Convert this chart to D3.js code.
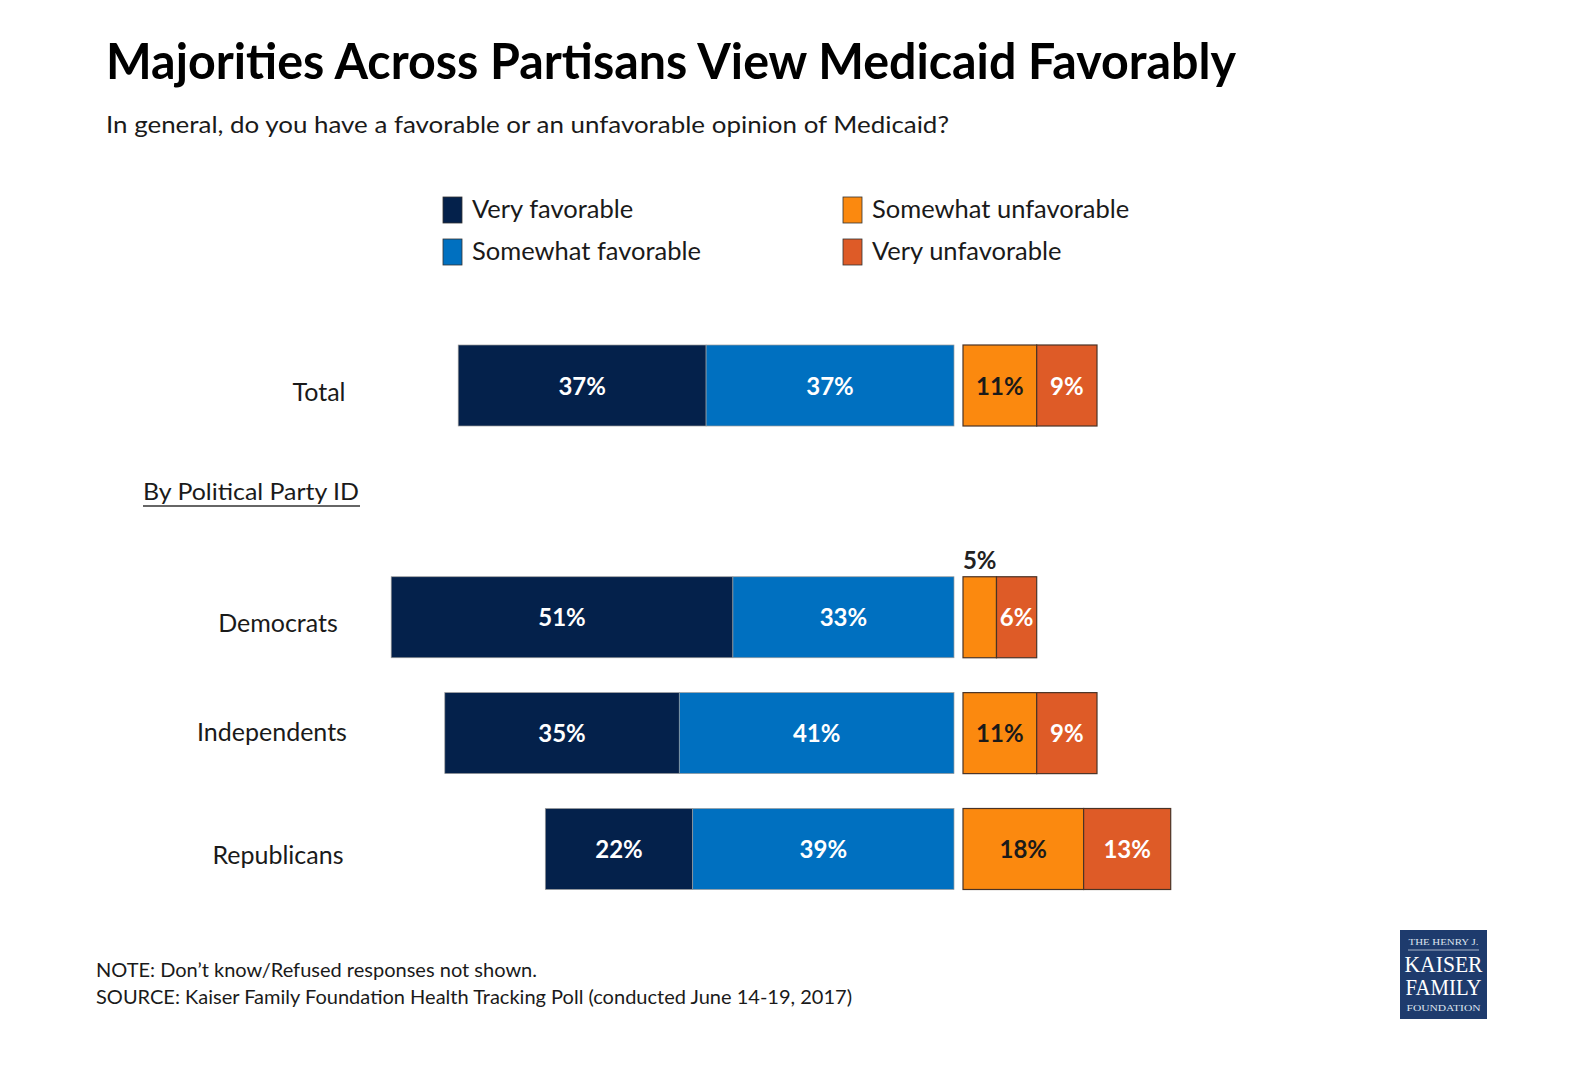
<!DOCTYPE html>
<html>
<head>
<meta charset="utf-8">
<script src="https://cdn.jsdelivr.net/npm/d3@7"></script>
<style>
  html, body { margin: 0; padding: 0; background: #ffffff; }
  svg { display: block; }
</style>
</head>
<body>
<svg id="chart" width="1586" height="1092"></svg>
<script>
// ---------------- DATA ----------------
const categories = ["Total", "Democrats", "Independents", "Republicans"];
const veryFavorable       = [37, 51, 35, 22];
const somewhatFavorable   = [37, 33, 41, 39];
const somewhatUnfavorable = [11, 5, 11, 18];
const veryUnfavorable     = [9, 6, 9, 13];
const seriesNames = ["Very favorable", "Somewhat favorable", "Somewhat unfavorable", "Very unfavorable"];
const titleText = "Majorities Across Partisans View Medicaid Favorably";
const subtitleText = "In general, do you have a favorable or an unfavorable opinion of Medicaid?";
const groupLabel = "By Political Party ID";
const noteText = "NOTE: Don\u2019t know/Refused responses not shown.";
const sourceText = "SOURCE: Kaiser Family Foundation Health Tracking Poll (conducted June 14-19, 2017)";

// ---------------- STYLE / LAYOUT ----------------
const colors = ["#04214b", "#0070c0", "#fb890f", "#de5b27"];
const labelColors = ["#ffffff", "#ffffff", "#1a1a1a", "#ffffff"];
const FONT = "Lato, 'Open Sans', sans-serif";
const favEnd = 954, unfavStart = 963;

const svg = d3.select("#chart");

// Rows (with an empty slot for the "By Political Party ID" heading)
const rowDomain = ["Total", "__group", "Democrats", "Independents", "Republicans"];
const y = d3.scalePoint().domain(rowDomain).range([385.5, 849]);
const barH = 81;
const x = d3.scaleLinear().domain([0, 100]).range([0, 670]);

// Title / subtitle
svg.append("text").attr("x", 106).attr("y", 79)
  .attr("font-family", FONT).attr("font-weight", 700).attr("font-size", 49)
  .attr("fill", "#000").attr("textLength", 1130).attr("lengthAdjust", "spacingAndGlyphs")
  .text(titleText);
svg.append("text").attr("x", 106).attr("y", 133)
  .attr("font-family", FONT).attr("font-size", 24)
  .attr("fill", "#1a1a1a").attr("textLength", 843).attr("lengthAdjust", "spacingAndGlyphs")
  .text(subtitleText);

// Legend
const legendPos = [[443, 197], [443, 239], [843, 197], [843, 239]];
const legend = svg.append("g");
seriesNames.forEach((name, i) => {
  const g = legend.append("g").attr("transform", `translate(${legendPos[i][0]},${legendPos[i][1]})`);
  g.append("rect").attr("width", 19).attr("height", 26).attr("fill", colors[i])
    .attr("stroke", "#333").attr("stroke-width", 0.8);
  g.append("text").attr("x", 29).attr("y", 21)
    .attr("font-family", FONT).attr("font-size", 25.5).attr("fill", "#1a1a1a").text(name);
});

// Build rows
const rows = categories.map((c, i) => ({
  cat: c,
  fav: [veryFavorable[i], somewhatFavorable[i]],
  unfav: [somewhatUnfavorable[i], veryUnfavorable[i]]
}));

const segs = [];
rows.forEach(r => {
  const totalFav = r.fav[0] + r.fav[1];
  segs.push({ cat: r.cat, s: 0, v: r.fav[0], x0: favEnd - x(totalFav), x1: favEnd - x(totalFav) + x(r.fav[0]) });
  segs.push({ cat: r.cat, s: 1, v: r.fav[1], x0: favEnd - x(r.fav[1]), x1: favEnd });
  segs.push({ cat: r.cat, s: 2, v: r.unfav[0], x0: unfavStart, x1: unfavStart + x(r.unfav[0]) });
  segs.push({ cat: r.cat, s: 3, v: r.unfav[1], x0: unfavStart + x(r.unfav[0]), x1: unfavStart + x(r.unfav[0]) + x(r.unfav[1]) });
});

const bars = svg.append("g");
bars.selectAll("rect").data(segs).join("rect")
  .attr("x", d => d.x0)
  .attr("y", d => y(d.cat) - barH / 2)
  .attr("width", d => d.x1 - d.x0)
  .attr("height", barH)
  .attr("fill", d => colors[d.s])
  .attr("stroke", d => d.s >= 2 ? "#4a3326" : "#9a9a9a")
  .attr("stroke-width", d => d.s >= 2 ? 1.2 : 0.7);

// Value labels
bars.selectAll("text").data(segs).join("text")
  .attr("x", d => (d.x0 + d.x1) / 2)
  .attr("y", d => (d.x1 - d.x0) < 36 ? y(d.cat) - barH / 2 - 8 : y(d.cat) + 9)
  .attr("text-anchor", "middle")
  .attr("font-family", FONT).attr("font-weight", 700).attr("font-size", 24)
  .attr("fill", d => (d.x1 - d.x0) < 36 ? "#222" : labelColors[d.s])
  .text(d => d.v + "%");

// Category labels
const catX = { "Total": 319, "Democrats": 278, "Independents": 272, "Republicans": 278 };
const catDy = { "Total": 15, "Democrats": 15, "Independents": 8, "Republicans": 15 };
svg.append("g").selectAll("text").data(categories).join("text")
  .attr("x", d => catX[d]).attr("y", d => y(d) + catDy[d])
  .attr("text-anchor", "middle")
  .attr("font-family", FONT).attr("font-size", 25).attr("fill", "#1a1a1a")
  .text(d => d);

// Group heading
svg.append("text").attr("x", 143).attr("y", 500)
  .attr("font-family", FONT).attr("font-size", 24).attr("fill", "#1a1a1a")
  .attr("textLength", 216).attr("lengthAdjust", "spacingAndGlyphs")
  .text(groupLabel);
svg.append("line").attr("x1", 143).attr("x2", 360).attr("y1", 506).attr("y2", 506)
  .attr("stroke", "#333").attr("stroke-width", 1.5);

// Notes
svg.append("text").attr("x", 96).attr("y", 977)
  .attr("font-family", FONT).attr("font-size", 19).attr("fill", "#1a1a1a")
  .attr("textLength", 441).attr("lengthAdjust", "spacingAndGlyphs").text(noteText);
svg.append("text").attr("x", 96).attr("y", 1004)
  .attr("font-family", FONT).attr("font-size", 19).attr("fill", "#1a1a1a")
  .attr("textLength", 756).attr("lengthAdjust", "spacingAndGlyphs").text(sourceText);

// Logo
const logo = svg.append("g").attr("transform", "translate(1400,930)");
logo.append("rect").attr("width", 87).attr("height", 89).attr("fill", "#1e3b6d");
const serif = "'Liberation Serif', 'DejaVu Serif', serif";
logo.append("text").attr("x", 43.5).attr("y", 15).attr("text-anchor", "middle")
  .attr("font-family", serif).attr("font-size", 8).attr("fill", "#dfe6f0")
  .attr("textLength", 70).attr("lengthAdjust", "spacingAndGlyphs").text("THE HENRY J.");
logo.append("line").attr("x1", 8).attr("x2", 79).attr("y1", 20).attr("y2", 20).attr("stroke", "#c9d3e2").attr("stroke-width", 0.8);
logo.append("text").attr("x", 43.5).attr("y", 42).attr("text-anchor", "middle")
  .attr("font-family", serif).attr("font-size", 23).attr("fill", "#ffffff")
  .attr("textLength", 78).attr("lengthAdjust", "spacingAndGlyphs").text("KAISER");
logo.append("text").attr("x", 43.5).attr("y", 65).attr("text-anchor", "middle")
  .attr("font-family", serif).attr("font-size", 23).attr("fill", "#ffffff")
  .attr("textLength", 76).attr("lengthAdjust", "spacingAndGlyphs").text("FAMILY");
logo.append("text").attr("x", 43.5).attr("y", 81).attr("text-anchor", "middle")
  .attr("font-family", serif).attr("font-size", 8).attr("fill", "#dfe6f0")
  .attr("textLength", 74).attr("lengthAdjust", "spacingAndGlyphs").text("FOUNDATION");
</script>
</body>
</html>
